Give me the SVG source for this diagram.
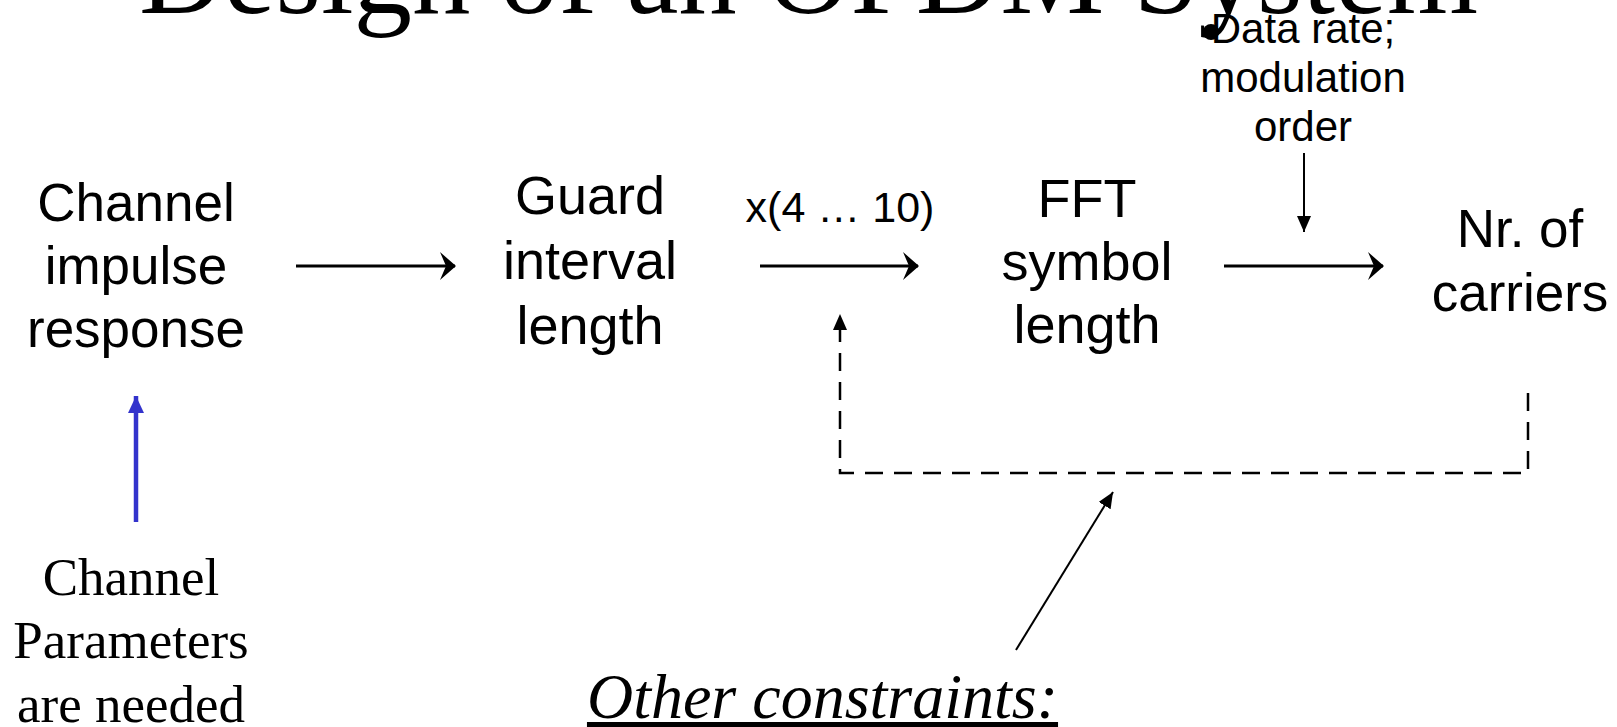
<svg xmlns="http://www.w3.org/2000/svg" width="1617" height="727" viewBox="0 0 1617 727">
<style>
.sans{font-family:"Liberation Sans",Arial,sans-serif;fill:#000;text-anchor:middle}
.serif{font-family:"Liberation Serif","Times New Roman",serif;fill:#000;text-anchor:middle}
.big{font-size:54px}
.mid{font-size:42px}
.conn{fill:none;stroke:#000}
</style>
<defs>
<marker id="stealth" markerUnits="userSpaceOnUse" markerWidth="16" markerHeight="28" viewBox="0 0 16 28" refX="15" refY="14" orient="auto">
<path d="M0,0 L16,14 L0,28 L6,14 Z" fill="#000"/>
</marker>
<marker id="tri" markerUnits="userSpaceOnUse" markerWidth="16" markerHeight="14" viewBox="0 0 16 14" refX="16" refY="7" orient="auto">
<path d="M0,0 L16,7 L0,14 Z" fill="#000"/>
</marker>
<marker id="triblue" markerUnits="userSpaceOnUse" markerWidth="17" markerHeight="16" viewBox="0 0 17 16" refX="17" refY="8" orient="auto">
<path d="M0,0 L17,8 L0,16 Z" fill="#3333cc"/>
</marker>
</defs>
<g id="title">
<text class="serif" x="808.5" y="13" font-size="117">Design of an OFDM System</text>
</g>
<g id="node-datarate">
<circle cx="1211" cy="32" r="8" fill="#000"/>
<text class="sans mid" x="1303" y="43">Data rate;</text>
<text class="sans mid" x="1303" y="92">modulation</text>
<text class="sans mid" x="1303" y="141">order</text>
</g>
<g id="node-channel">
<text class="sans" font-size="53" x="136" y="221">Channel</text>
<text class="sans" font-size="53" x="136" y="284">impulse</text>
<text class="sans" font-size="53" x="136" y="347">response</text>
</g>
<g id="node-guard">
<text class="sans big" x="590" y="214">Guard</text>
<text class="sans big" x="590" y="279">interval</text>
<text class="sans big" x="590" y="344">length</text>
</g>
<g id="label-factor">
<text class="sans" x="840" y="222" font-size="43">x(4 … 10)</text>
</g>
<g id="node-fft">
<text class="sans big" x="1087" y="217">FFT</text>
<text class="sans big" x="1087" y="280">symbol</text>
<text class="sans big" x="1087" y="343">length</text>
</g>
<g id="node-carriers">
<text class="sans" font-size="53" x="1520" y="247">Nr. of</text>
<text class="sans" font-size="53" x="1520" y="311">carriers</text>
</g>
<g id="node-chparams">
<text class="serif" font-size="53" x="131" y="595">Channel</text>
<text class="serif" font-size="53" x="131" y="658">Parameters</text>
<text class="serif" font-size="53" x="131" y="722">are needed</text>
</g>
<g id="node-other">
<text class="serif" x="822.5" y="718" font-size="64" font-style="italic" text-decoration="underline">Other constraints:</text>
</g>
<g id="connectors">
<line class="conn" x1="296" y1="266" x2="455" y2="266" stroke-width="3" marker-end="url(#stealth)"/>
<line class="conn" x1="760" y1="266" x2="918" y2="266" stroke-width="3" marker-end="url(#stealth)"/>
<line class="conn" x1="1224" y1="266" x2="1383" y2="266" stroke-width="3" marker-end="url(#stealth)"/>
<line class="conn" x1="1304" y1="153" x2="1304" y2="232" stroke-width="2" marker-end="url(#tri)"/>
<path class="conn" d="M1528,393 V473 H840 V314" stroke-width="2.5" stroke-dasharray="18 11" marker-end="url(#tri)"/>
<line class="conn" x1="1016" y1="650" x2="1113" y2="492" stroke-width="2" marker-end="url(#tri)"/>
<line x1="136" y1="522" x2="136" y2="396" stroke="#3333cc" stroke-width="4.5" marker-end="url(#triblue)"/>
</g>
</svg>
